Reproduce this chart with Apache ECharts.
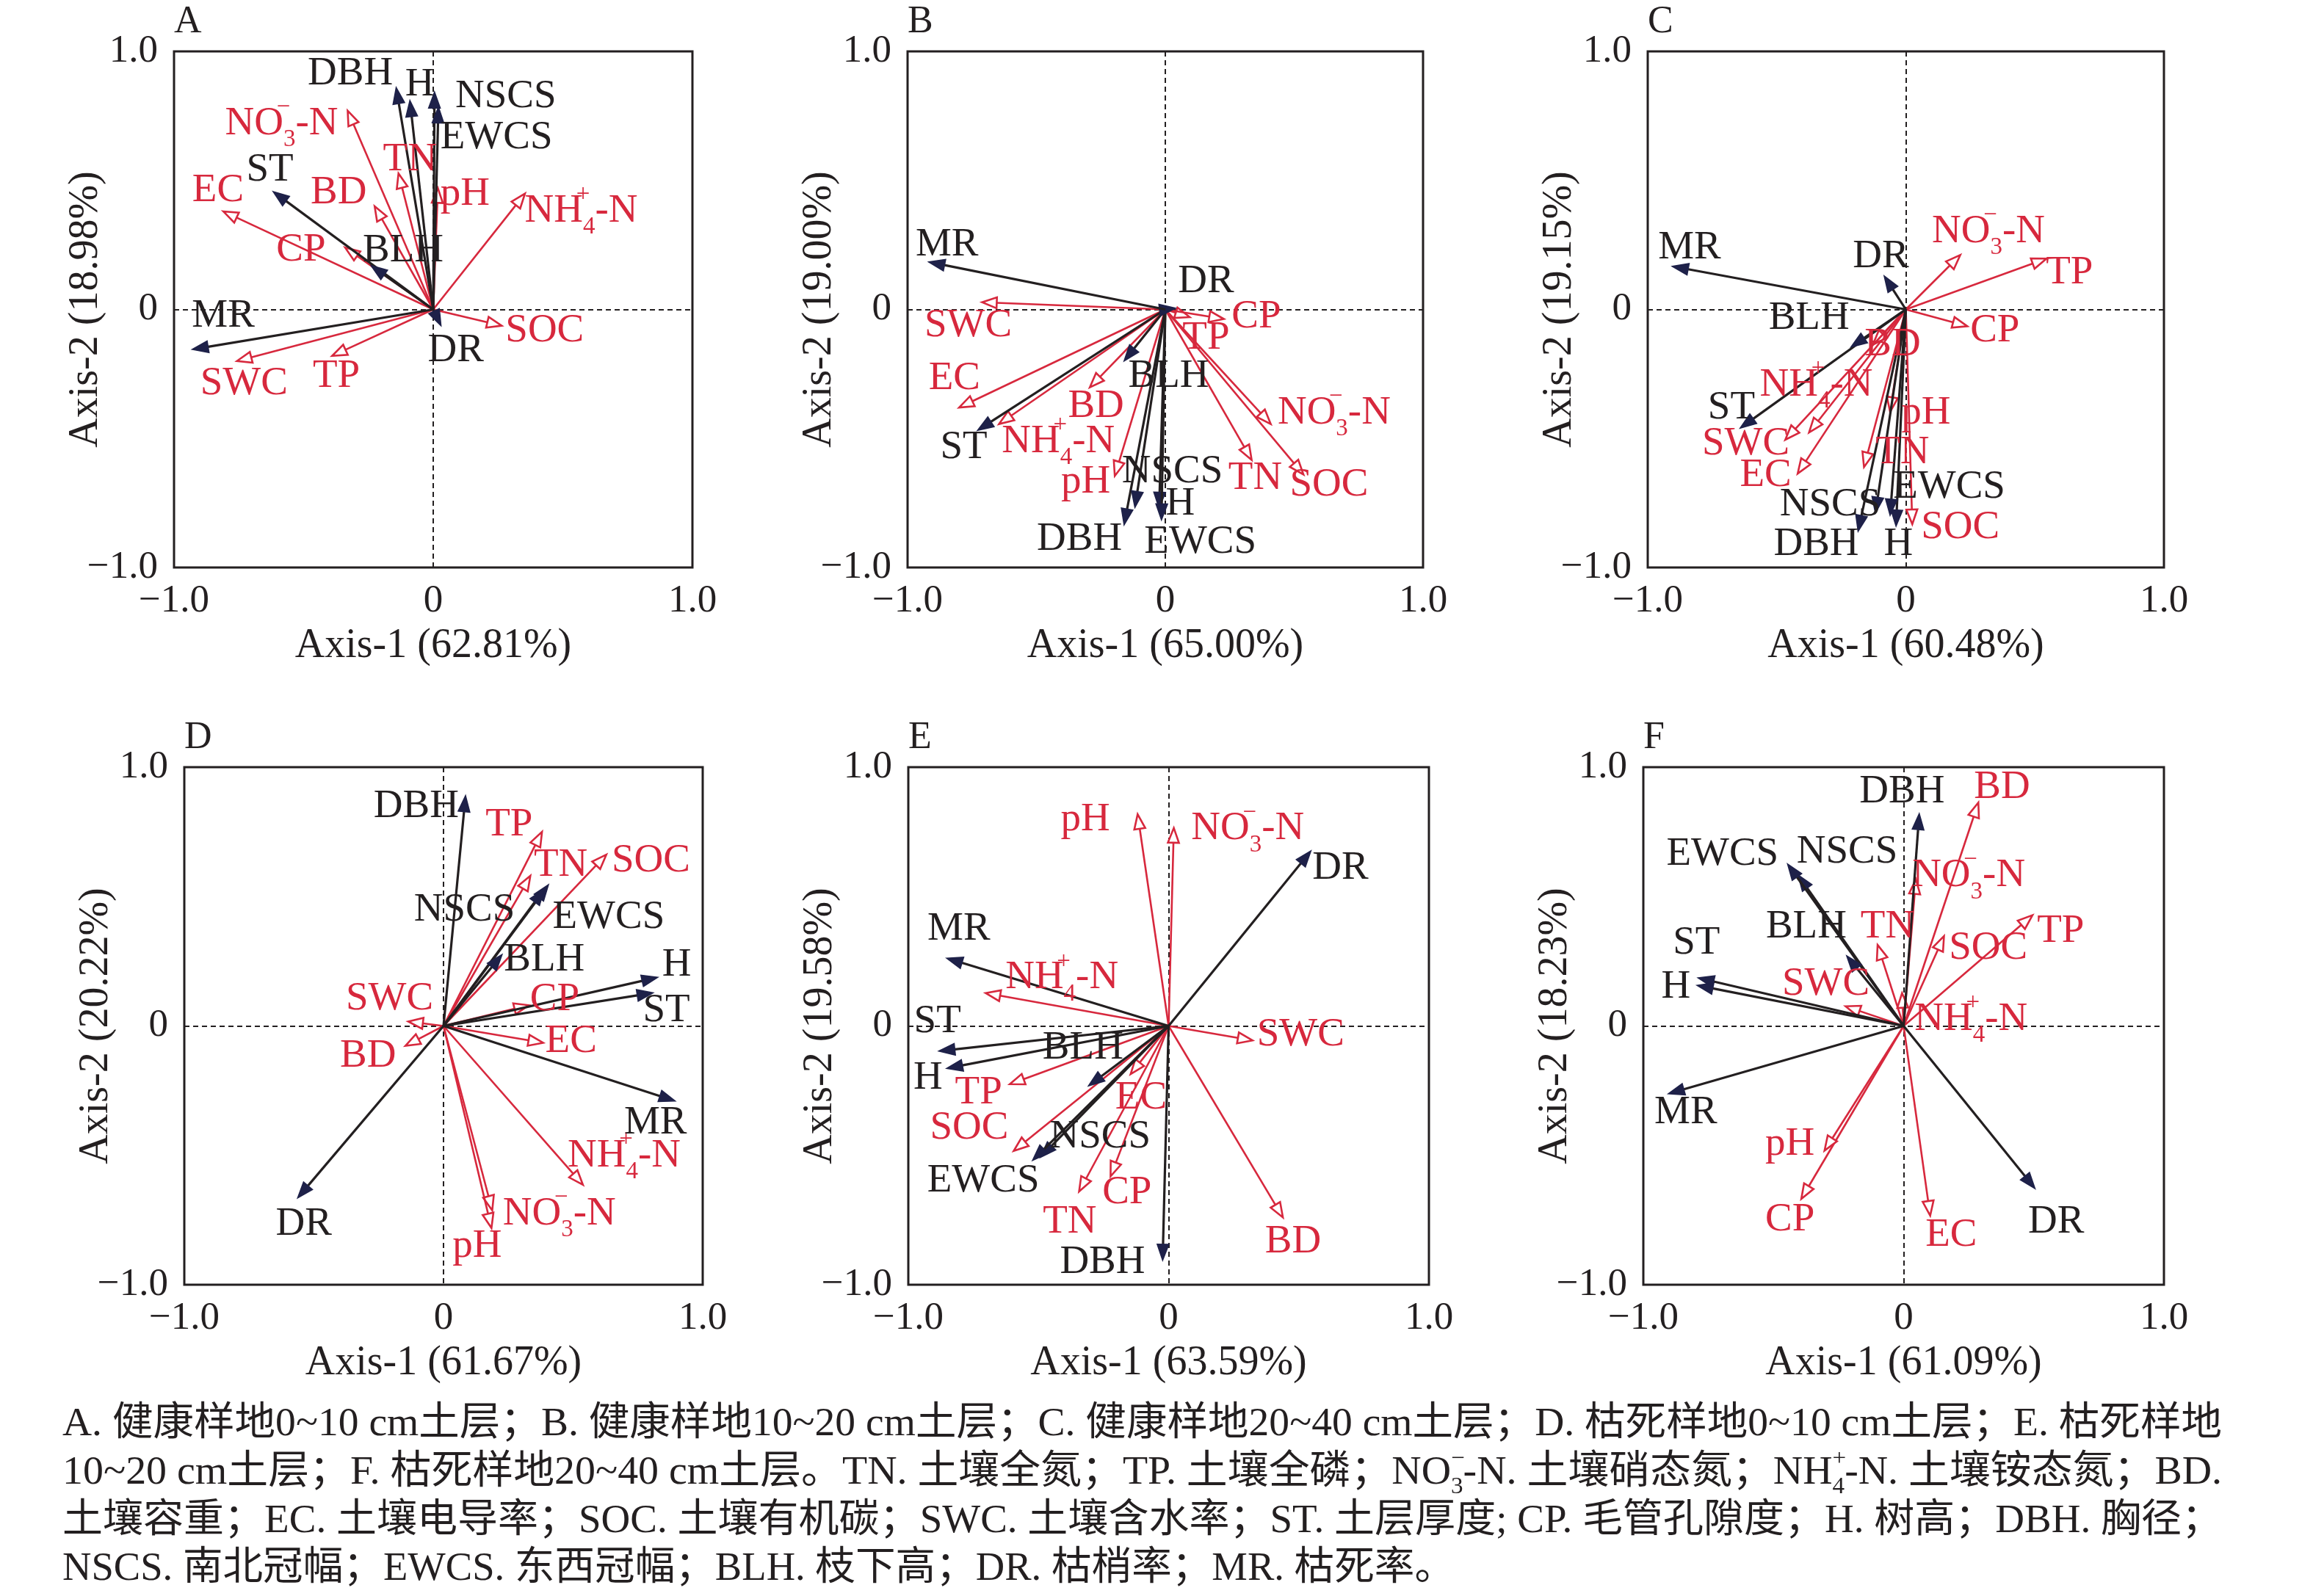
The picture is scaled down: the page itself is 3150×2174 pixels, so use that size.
<!DOCTYPE html>
<html>
<head>
<meta charset="utf-8">
<script src="https://cdn.jsdelivr.net/npm/echarts@6/dist/echarts.min.js"></script>
<style>
html, body { margin: 0; padding: 0; background: #fff; }
#chart { width: 3150px; height: 2174px; }
</style>
</head>
<body>
<div id="chart"></div>
<script>
// 变量（黑色箭头：树木指标；红色箭头：土壤指标）
var treeVars = ['DBH', 'H', 'NSCS', 'EWCS', 'ST', 'BLH', 'DR', 'MR'];
var soilVars = ['TN', 'TP', 'NO3', 'NH4', 'BD', 'EC', 'SOC', 'SWC', 'CP', 'pH'];
var panelNames = ['A', 'B', 'C', 'D', 'E', 'F'];
var axis1Pct = ['62.81%', '65.00%', '60.48%', '61.67%', '63.59%', '61.09%'];
var axis2Pct = ['18.98%', '19.00%', '19.15%', '20.22%', '19.58%', '18.23%'];
var tickValues = [-1, 0, 1];

// RDA 载荷 [Axis-1, Axis-2]，顺序同 treeVars / soilVars
var treeA = [[-0.143, 0.86], [-0.09, 0.81], [0.005, 0.843], [0.02, 0.785], [-0.618, 0.457], [-0.24, 0.17], [0.03, -0.063], [-0.93, -0.155]];
var soilA = [[-0.134, 0.527], [-0.39, -0.18], [-0.33, 0.77], [0.354, 0.449], [-0.226, 0.40], [-0.81, 0.38], [0.264, -0.063], [-0.757, -0.2], [-0.34, 0.24], [0.018, 0.47]];

var treeB = [[-0.16, -0.835], [-0.024, -0.771], [-0.118, -0.768], [-0.015, -0.816], [-0.729, -0.469], [-0.16, -0.2], [0.04, 0.005], [-0.918, 0.184]];
var soilB = [[0.335, -0.583], [0.095, -0.03], [0.409, -0.444], [-0.645, -0.444], [-0.293, -0.302], [-0.8, -0.38], [0.536, -0.64], [-0.711, 0.028], [0.227, -0.037], [-0.196, -0.645]];

var treeC = [[-0.185, -0.86], [-0.038, -0.84], [-0.118, -0.79], [-0.061, -0.798], [-0.642, -0.46], [-0.213, -0.146], [-0.084, 0.13], [-0.905, 0.167]];
var soilC = [[-0.162, -0.611], [0.545, 0.197], [0.211, 0.211], [-0.375, -0.477], [-0.128, -0.137], [-0.419, -0.636], [0.025, -0.832], [-0.467, -0.505], [0.238, -0.065], [-0.061, -0.397]];

var treeD = [[0.085, 0.89], [0.827, 0.188], [0.405, 0.546], [0.389, 0.529], [0.809, 0.128], [0.226, 0.276], [-0.563, -0.665], [0.894, -0.29]];
var soilD = [[0.335, 0.58], [0.38, 0.75], [0.188, -0.713], [0.538, -0.614], [-0.147, -0.077], [0.384, -0.065], [0.628, 0.662], [-0.136, 0.017], [0.329, 0.08], [0.185, -0.781]];

var treeE = [[-0.023, -0.906], [-0.853, -0.164], [-0.493, -0.508], [-0.523, -0.52], [-0.883, -0.097], [-0.308, -0.232], [0.547, 0.677], [-0.853, 0.262]];
var soilE = [[-0.344, -0.64], [-0.61, -0.225], [0.02, 0.765], [-0.703, 0.127], [0.439, -0.74], [-0.146, -0.186], [-0.595, -0.483], [0.322, -0.056], [-0.223, -0.581], [-0.119, 0.818]];

var treeF = [[0.06, 0.821], [-0.794, 0.157], [-0.406, 0.584], [-0.446, 0.626], [-0.79, 0.186], [-0.219, 0.271], [0.505, -0.629], [-0.904, -0.262]];
var soilF = [[-0.1, 0.313], [0.495, 0.428], [0.047, 0.567], [-0.006, 0.127], [0.287, 0.863], [0.102, -0.733], [0.155, 0.347], [-0.223, 0.076], [-0.393, -0.668], [-0.304, -0.482]];

var treeData = [treeA, treeB, treeC, treeD, treeE, treeF];
var soilData = [soilA, soilB, soilC, soilD, soilE, soilF];

// 图注
var captionLines = [
  'A. 健康样地0~10 cm土层；B. 健康样地10~20 cm土层；C. 健康样地20~40 cm土层；D. 枯死样地0~10 cm土层；E. 枯死样地',
  '10~20 cm土层；F. 枯死样地20~40 cm土层。TN. 土壤全氮；TP. 土壤全磷；NO{sp|−}{sb|3}-N. 土壤硝态氮；NH{sp|+}{sb|4}-N. 土壤铵态氮；BD.',
  '土壤容重；EC. 土壤电导率；SOC. 土壤有机碳；SWC. 土壤含水率；ST. 土层厚度; CP. 毛管孔隙度；H. 树高；DBH. 胸径；',
  'NSCS. 南北冠幅；EWCS. 东西冠幅；BLH. 枝下高；DR. 枯梢率；MR. 枯死率。'
];

// ---- 版式 ----
// 标签位置（坐标轴单位，标签中心）
var labelAt = {
  A: {DBH: [-0.32, 0.914], H: [-0.052, 0.871], NSCS: [0.28, 0.826], EWCS: [0.244, 0.665], ST: [-0.63, 0.54], BLH: [-0.116, 0.228], DR: [0.087, -0.16], MR: [-0.81, -0.027],
      TN: [-0.09, 0.58], TP: [-0.374, -0.26], NO3: [-0.585, 0.72], NH4: [0.571, 0.382], BD: [-0.365, 0.452], EC: [-0.83, 0.46], SOC: [0.43, -0.083], SWC: [-0.73, -0.288], CP: [-0.51, 0.231], pH: [0.123, 0.447]},
  B: {DBH: [-0.333, -0.892], H: [0.058, -0.754], NSCS: [0.027, -0.629], EWCS: [0.136, -0.902], ST: [-0.782, -0.536], BLH: [0.013, -0.26], DR: [0.158, 0.109], MR: [-0.847, 0.251],
      TN: [0.349, -0.654], TP: [0.158, -0.112], NO3: [0.655, -0.402], NH4: [-0.415, -0.511], BD: [-0.269, -0.377], EC: [-0.818, -0.268], SOC: [0.635, -0.679], SWC: [-0.765, -0.062], CP: [0.353, -0.03], pH: [-0.309, -0.67]},
  C: {DBH: [-0.347, -0.91], H: [-0.029, -0.91], NSCS: [-0.293, -0.756], EWCS: [0.168, -0.69], ST: [-0.676, -0.38], BLH: [-0.375, -0.033], DR: [-0.097, 0.204], MR: [-0.838, 0.239],
      TN: [-0.013, -0.556], TP: [0.634, 0.142], NO3: [0.32, 0.301], NH4: [-0.347, -0.293], BD: [-0.051, -0.137], EC: [-0.543, -0.644], SOC: [0.211, -0.844], SWC: [-0.62, -0.522], CP: [0.345, -0.084], pH: [0.078, -0.402]},
  D: {DBH: [-0.105, 0.847], H: [0.9, 0.235], NSCS: [0.081, 0.447], EWCS: [0.637, 0.421], ST: [0.86, 0.06], BLH: [0.389, 0.256], DR: [-0.539, -0.767], MR: [0.818, -0.375],
      TN: [0.452, 0.622], TP: [0.253, 0.776], NO3: [0.447, -0.725], NH4: [0.697, -0.503], BD: [-0.291, -0.116], EC: [0.492, -0.06], SOC: [0.8, 0.639], SWC: [-0.208, 0.106], CP: [0.429, 0.102], pH: [0.13, -0.852]},
  E: {DBH: [-0.254, -0.914], H: [-0.924, -0.203], NSCS: [-0.263, -0.428], EWCS: [-0.712, -0.598], ST: [-0.888, 0.017], BLH: [-0.329, -0.085], DR: [0.66, 0.61], MR: [-0.806, 0.373],
      TN: [-0.38, -0.759], TP: [-0.73, -0.259], NO3: [0.304, 0.762], NH4: [-0.41, 0.186], BD: [0.478, -0.835], EC: [-0.106, -0.279], SOC: [-0.766, -0.395], SWC: [0.507, -0.034], CP: [-0.16, -0.644], pH: [-0.32, 0.796]},
  F: {DBH: [-0.006, 0.905], H: [-0.875, 0.149], NSCS: [-0.217, 0.672], EWCS: [-0.696, 0.663], ST: [-0.796, 0.321], BLH: [-0.374, 0.384], DR: [0.586, -0.758], MR: [-0.837, -0.335],
      TN: [-0.062, 0.384], TP: [0.603, 0.367], NO3: [0.25, 0.58], NH4: [0.259, 0.025], BD: [0.378, 0.922], EC: [0.183, -0.809], SOC: [0.325, 0.3], SWC: [-0.299, 0.161], CP: [-0.437, -0.75], pH: [-0.437, -0.457]}
};

var boxX = [[237, 943], [1236, 1938], [2244, 2947], [251, 957], [1237, 1946], [2238, 2947]];
var rowY = [[70, 773], [1045, 1750]];
var captionY = [1941, 2007, 2073, 2138];
var captionX = 85;
var captionW = [2941, 2941, 2941, 1896];

var FONT = '"Liberation Serif", "Times New Roman", serif';
var CAP_FONT = '"Liberation Serif", "Noto Sans CJK SC", serif';
var RED = '#d7283d';
var INK = '#231f20';
var NAVY = '#1e2149';
var LABEL_SIZE = 55;
var TICK_SIZE = 53;
var TITLE_SIZE = 56;

function labelText(name) {
  if (name === 'NO3') return '{a|NO}{sp|−}{sb|3}{a|-N}';
  if (name === 'NH4') return '{a|NH}{sp|+}{sb|4}{a|-N}';
  return '{a|' + name + '}';
}

function labelRich(color, f) {
  var s = Math.round(f * 0.6);
  return {
    a: {fontSize: f, fontFamily: FONT, fill: color, color: color, lineHeight: Math.round(f * 1.4), verticalAlign: 'middle'},
    sb: {fontSize: s, fontFamily: FONT, fill: color, color: color, verticalAlign: 'bottom'},
    sp: {fontSize: s, fontFamily: FONT, fill: color, color: color, verticalAlign: 'top', width: 0}
  };
}

function tickFmt(v) {
  if (v === 0) return '0';
  return (v < 0 ? '−' : '') + Math.abs(v).toFixed(1);
}

function makeRender(items, labels) {
  return function (params, api) {
    var it = items[params.dataIndex];
    var p0 = api.coord([0, 0]);
    var p1 = api.coord([api.value(0), api.value(1)]);
    var dx = p1[0] - p0[0], dy = p1[1] - p0[1];
    var len = Math.sqrt(dx * dx + dy * dy) || 1;
    var ux = dx / len, uy = dy / len;
    var L = it.soil ? 20 : 22, W = it.soil ? 7.5 : 8;
    var bx = p1[0] - ux * L, by = p1[1] - uy * L;
    var head = [[p1[0], p1[1]], [bx - uy * W, by + ux * W], [bx + uy * W, by - ux * W]];
    var color = it.soil ? RED : INK;
    var lp = api.coord(labels[it.name]);
    return {
      type: 'group',
      children: [
        {type: 'line', shape: {x1: p0[0], y1: p0[1], x2: bx, y2: by},
         style: {stroke: color, lineWidth: it.soil ? 2.6 : 3.2}},
        {type: 'polygon', shape: {points: head},
         style: it.soil ? {fill: '#fff', stroke: RED, lineWidth: 2.6, lineJoin: 'miter'}
                        : {fill: NAVY, stroke: NAVY, lineWidth: 1.5}},
        {type: 'text', z2: 10,
         style: {text: labelText(it.name), x: lp[0], y: lp[1], align: 'center', verticalAlign: 'middle',
                 fill: color, fontSize: LABEL_SIZE, fontFamily: FONT, rich: labelRich(color, LABEL_SIZE)}}
      ]
    };
  };
}

// 测量图注宽度，用于两端对齐
var ctx = document.createElement('canvas').getContext('2d');
function measure(str, size) {
  ctx.font = size + 'px ' + CAP_FONT;
  return ctx.measureText(str).width;
}
var CAP_SIZE = 54, CAP_SMALL = 32;
function richWidth(str) {
  var re = /\{(\w+)\|([^}]*)\}/g, last = 0, m, total = 0;
  while ((m = re.exec(str))) {
    total += measure(str.slice(last, m.index), CAP_SIZE);
    if (m[1] === 'sb') total += measure(m[2], CAP_SMALL);
    last = re.lastIndex;
  }
  return total + measure(str.slice(last), CAP_SIZE);
}

var grids = [], xAxes = [], yAxes = [], series = [], graphics = [];
panelNames.forEach(function (p, i) {
  var row = rowY[i < 3 ? 0 : 1];
  var x0 = boxX[i][0], x1 = boxX[i][1];
  grids.push({left: x0, top: row[0], width: x1 - x0, height: row[1] - row[0],
              show: true, borderColor: INK, borderWidth: 3, backgroundColor: 'transparent'});
  var splitStyle = {show: true, lineStyle: {color: INK, type: [7, 5], width: 2}};
  xAxes.push({
    gridIndex: i, type: 'value', min: tickValues[0], max: tickValues[2], interval: 1,
    axisLine: {show: false}, axisTick: {show: false}, splitLine: splitStyle,
    axisLabel: {formatter: tickFmt, fontSize: TICK_SIZE, fontFamily: FONT, color: INK, margin: 20},
    name: 'Axis-1 (' + axis1Pct[i] + ')', nameLocation: 'middle', nameGap: 79, nameMoveOverlap: false,
    nameTextStyle: {fontSize: TITLE_SIZE, fontFamily: FONT, color: INK}
  });
  yAxes.push({
    gridIndex: i, type: 'value', min: tickValues[0], max: tickValues[2], interval: 1,
    axisLine: {show: false}, axisTick: {show: false}, splitLine: splitStyle,
    axisLabel: {formatter: tickFmt, fontSize: TICK_SIZE, fontFamily: FONT, color: INK, margin: 22},
    name: 'Axis-2 (' + axis2Pct[i] + ')', nameLocation: 'middle', nameGap: 92, nameMoveOverlap: false,
    nameTextStyle: {fontSize: TITLE_SIZE, fontFamily: FONT, color: INK}
  });
  var items = [];
  soilVars.forEach(function (n, k) { items.push({name: n, soil: true, v: soilData[i][k]}); });
  treeVars.forEach(function (n, k) { items.push({name: n, soil: false, v: treeData[i][k]}); });
  series.push({
    type: 'custom', coordinateSystem: 'cartesian2d', xAxisIndex: i, yAxisIndex: i,
    silent: true, clip: false, z: 5,
    data: items.map(function (it) { return it.v; }),
    renderItem: makeRender(items, labelAt[p])
  });
  graphics.push({type: 'text', x: x0, y: row[0] - 40,
                 style: {text: p, fontSize: 52, fontFamily: FONT, fill: INK, align: 'left', verticalAlign: 'middle'}});
});

captionLines.forEach(function (line, k) {
  var w = richWidth(line);
  graphics.push({
    type: 'text', x: captionX, y: captionY[k], scaleX: captionW[k] / w, originX: 0, originY: 0,
    style: {
      text: line, fontSize: CAP_SIZE, fontFamily: CAP_FONT, fill: INK, lineHeight: 70,
      align: 'left', verticalAlign: 'middle',
      rich: {
        sb: {fontSize: CAP_SMALL, fontFamily: CAP_FONT, fill: INK, verticalAlign: 'bottom'},
        sp: {fontSize: CAP_SMALL, fontFamily: CAP_FONT, fill: INK, verticalAlign: 'top', width: 0}
      }
    }
  });
});

var myChart = echarts.init(document.getElementById('chart'), null, {renderer: 'canvas'});
myChart.setOption({
  animation: false,
  backgroundColor: '#fff',
  grid: grids,
  xAxis: xAxes,
  yAxis: yAxes,
  series: series,
  graphic: graphics
});
</script>
</body>
</html>
